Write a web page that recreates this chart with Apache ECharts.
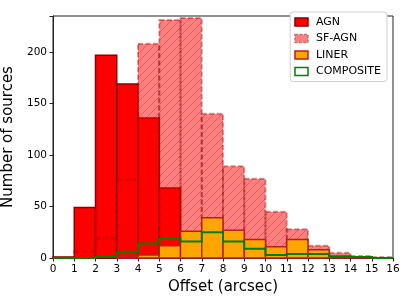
<!DOCTYPE html>
<html>
<head>
<meta charset="utf-8">
<script src="https://cdn.jsdelivr.net/npm/echarts@6/dist/echarts.min.js"></script>
<style>
html,body{margin:0;padding:0;background:#fff;}
#chart{width:407px;height:302px;}
</style>
</head>
<body>
<div id="chart"></div>
<script>
// Bin edges 0..16 (1 arcsec wide)
var binEdges = [0,1,2,3,4,5,6,7,8,9,10,11,12,13,14,15,16];
var agn       = [1, 49, 197, 169, 136, 68, 0, 0, 0, 0, 0, 0, 0, 0, 0, 0];
var sfagn     = [0, 6, 19, 76, 208, 231, 233, 140, 89, 77, 45, 28, 12, 5, 2, 1];
var liner     = [0, 0, 0, 1, 3, 12, 26, 39, 27, 18, 11, 18, 8, 2, 1, 0];
var composite = [0, 0, 1, 6, 14, 19, 16, 25, 16, 9, 3, 4, 4, 1, 1, 0];
var xTicks = [0,1,2,3,4,5,6,7,8,9,10,11,12,13,14,15,16];
var yTicks = [0,50,100,150,200];

var FONT = 'DejaVu Sans';

// hatch pattern '/'
var HS = 8;
var hc = document.createElement('canvas');
hc.width = HS; hc.height = HS;
var hx = hc.getContext('2d');
hx.strokeStyle = 'rgba(110,50,50,0.3)';
hx.lineWidth = 1;
hx.beginPath();
hx.moveTo(-1, HS+1); hx.lineTo(HS+1, -1);
hx.moveTo(-1, 1); hx.lineTo(1, -1);
hx.moveTo(HS-1, HS+1); hx.lineTo(HS+1, HS-1);
hx.stroke();
var hatch = {image: hc, repeat: 'repeat'};

function barData(vals){
  var out = [];
  for (var i = 0; i < vals.length; i++) out.push([binEdges[i], binEdges[i+1], vals[i]]);
  return out;
}

function rectItem(api, styleFn){
  var x0 = api.value(0), x1 = api.value(1), v = api.value(2);
  if (!v) return null;
  var p0 = api.coord([x0, 0]);
  var p1 = api.coord([x1, v]);
  return styleFn(p0[0], p1[1], p1[0]-p0[0], p0[1]-p1[1]);
}

var chart = echarts.init(document.getElementById('chart'), null, {renderer:'canvas'});

var option = {
  animation: false,
  backgroundColor: '#fff',
  grid: {left: 53, right: 14, top: 16, bottom: 44, show: true, borderColor: '#222', borderWidth: 1,
    backgroundColor: 'transparent', containLabel: false, outerBoundsMode: 'none'},
  xAxis: {
    type: 'value', min: 0, max: 16, interval: 1,
    name: 'Offset (arcsec)', nameLocation: 'middle', nameGap: 22,
    nameTextStyle: {fontFamily: FONT, fontSize: 15, color: '#000'},
    axisLine: {show: true, onZero: false, lineStyle: {color: '#222', width: 1}},
    axisTick: {show: true, inside: false, length: 3.5, lineStyle: {color: '#222'}},
    axisLabel: {fontFamily: FONT, fontSize: 10.5, color: '#000', margin: 6,
      formatter: function(v){ return xTicks.indexOf(v) >= 0 ? String(v) : ''; }},
    splitLine: {show: false}
  },
  yAxis: {
    type: 'value', min: 0, max: 235, interval: 50,
    name: 'Number of sources', nameLocation: 'middle', nameGap: 31,
    nameTextStyle: {fontFamily: FONT, fontSize: 15, color: '#000'},
    axisLine: {show: true, lineStyle: {color: '#222', width: 1}},
    axisTick: {show: true, inside: false, length: 3.5, lineStyle: {color: '#222'}},
    axisLabel: {fontFamily: FONT, fontSize: 10.5, color: '#000', margin: 6,
      formatter: function(v){ return yTicks.indexOf(v) >= 0 ? String(v) : ''; }},
    splitLine: {show: false}
  },
  legend: {
    orient: 'vertical', right: 20, top: 12,
    backgroundColor: '#fff', borderColor: '#d0d0d0', borderWidth: 1, borderRadius: 3,
    padding: [4, 6, 4, 4],
    itemWidth: 13, itemHeight: 8, itemGap: 4.5,
    textStyle: {fontFamily: FONT, fontSize: 11, color: '#000', lineHeight: 12, padding: [0,0,0,3]},
    data: [
      {name: 'AGN', icon: 'rect', itemStyle: {color: '#ff0000', borderColor: '#8b0000', borderWidth: 1.5}},
      {name: 'SF-AGN', icon: 'rect', itemStyle: {color: '#ff8080', borderColor: '#c87070', borderWidth: 1.5, borderType: [3,1.5]}},
      {name: 'LINER', icon: 'rect', itemStyle: {color: '#ffa500', borderColor: '#b22222', borderWidth: 1.5}},
      {name: 'COMPOSITE', icon: 'rect', itemStyle: {color: '#ffffff', borderColor: '#008000', borderWidth: 1.5}}
    ]
  },
  series: [
    {
      name: 'AGN', type: 'custom', data: barData(agn), z: 2,
      itemStyle: {color: '#ff0000'},
      renderItem: function(params, api){
        return rectItem(api, function(x,y,w,h){
          return {type:'rect', shape:{x:x, y:y, width:w, height:h},
            style:{fill:'#ff0000', stroke:'#8b0000', lineWidth:1.5}};
        });
      }
    },
    {
      name: 'SF-AGN', type: 'custom', data: barData(sfagn), z: 3,
      itemStyle: {color: '#ff8080'},
      renderItem: function(params, api){
        return rectItem(api, function(x,y,w,h){
          return {type:'group', children:[
            {type:'rect', shape:{x:x, y:y, width:w, height:h},
              style:{fill:'rgba(255,0,0,0.5)', stroke:null}},
            {type:'rect', shape:{x:x, y:y, width:w, height:h},
              style:{fill:hatch, stroke:'rgba(139,0,0,0.38)', lineWidth:2, lineDash:[5,2.5]}}
          ]};
        });
      }
    },
    {
      name: 'LINER', type: 'custom', data: barData(liner), z: 4,
      itemStyle: {color: '#ffa500'},
      renderItem: function(params, api){
        return rectItem(api, function(x,y,w,h){
          return {type:'rect', shape:{x:x, y:y, width:w, height:h},
            style:{fill:'#ffa500', stroke:'#b22222', lineWidth:1.5}};
        });
      }
    },
    {
      name: 'COMPOSITE', type: 'custom', data: [[0]], z: 5,
      itemStyle: {color: '#008000'},
      renderItem: function(params, api){
        var pts = [api.coord([binEdges[0], 0])];
        for (var i = 0; i < composite.length; i++){
          pts.push(api.coord([binEdges[i], composite[i]]));
          pts.push(api.coord([binEdges[i+1], composite[i]]));
        }
        pts.push(api.coord([binEdges[binEdges.length-1], 0]));
        return {type:'polyline', shape:{points:pts},
          style:{fill:null, stroke:'#008000', lineWidth:2}};
      }
    }
  ]
};
chart.setOption(option);
</script>
</body>
</html>
